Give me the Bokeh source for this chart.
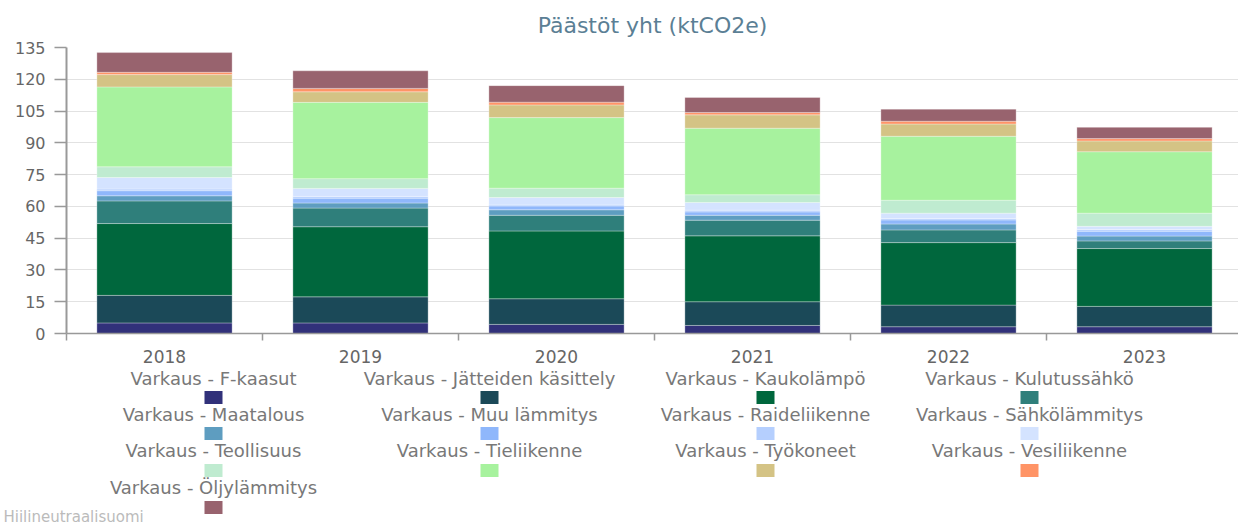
from bokeh.plotting import figure
from bokeh.models import ColumnDataSource, Range1d, FixedTicker, Title
from bokeh.layouts import column
from bokeh.embed import file_html
from bokeh.resources import INLINE
from bokeh.core.properties import value

years = ["2018", "2019", "2020", "2021", "2022", "2023"]
series = [
    "Varkaus - F-kaasut",
    "Varkaus - Jätteiden käsittely",
    "Varkaus - Kaukolämpö",
    "Varkaus - Kulutussähkö",
    "Varkaus - Maatalous",
    "Varkaus - Muu lämmitys",
    "Varkaus - Raideliikenne",
    "Varkaus - Sähkölämmitys",
    "Varkaus - Teollisuus",
    "Varkaus - Tieliikenne",
    "Varkaus - Työkoneet",
    "Varkaus - Vesiliikenne",
    "Varkaus - Öljylämmitys",
]
f_kaasut = [5.0, 5.0, 4.3, 3.8, 3.2, 3.2]
jatteiden = [13.0, 12.3, 12.1, 11.2, 10.2, 9.6]
kaukolampo = [33.9, 33.1, 32.0, 31.1, 29.5, 27.3]
kulutussahko = [10.7, 8.8, 7.4, 7.4, 6.0, 3.6]
maatalous = [2.4, 2.4, 2.6, 2.3, 2.8, 2.3]
muu_lammitys = [2.4, 2.3, 1.8, 1.6, 1.9, 2.3]
raideliikenne = [0.8, 0.8, 0.5, 0.8, 0.7, 0.8]
sahkolammitys = [5.4, 3.8, 3.5, 3.6, 2.5, 1.5]
teollisuus = [5.1, 4.6, 4.4, 3.7, 6.1, 6.2]
tieliikenne = [37.7, 36.0, 33.3, 31.4, 30.2, 29.0]
tyokoneet = [5.8, 5.0, 6.0, 6.3, 5.8, 5.1]
vesiliikenne = [1.1, 1.6, 1.3, 1.1, 1.3, 1.1]
oljylammitys = [9.3, 8.3, 7.8, 7.1, 5.7, 5.3]
colors = ["#31317a", "#1b4958", "#00673d", "#2f7f7b", "#5e9dc0", "#8fb7fb",
          "#b5cffe", "#d4e3ff", "#bfebd0", "#a7f29e", "#d4c385", "#ff9466", "#98636e"]
y_ticks = [0, 15, 30, 45, 60, 75, 90, 105, 120, 135]

values = [f_kaasut, jatteiden, kaukolampo, kulutussahko, maatalous, muu_lammitys,
          raideliikenne, sahkolammitys, teollisuus, tieliikenne, tyokoneet,
          vesiliikenne, oljylammitys]

FONT = "DejaVu Sans"
W = 1238
H1 = 365
H2 = 528 - H1
LEFT = 66

xs = [i + 0.5 for i in range(len(years))]
data = {"x": xs}
keys = []
for i, v in enumerate(values):
    k = "s%d" % i
    keys.append(k)
    data[k] = v
src = ColumnDataSource(data)

p = figure(width=W, height=H1, output_backend="svg", toolbar_location=None,
           x_range=Range1d(0, (W - LEFT) / 196.0), y_range=Range1d(0, 135),
           min_border_left=LEFT, min_border_right=0, min_border_top=0, min_border_bottom=0)
p.frame_align = False
p.title = Title(text="Päästöt yht (ktCO2e)", align="center", text_font_size="22px",
                text_color="#5b7f95", text_font_style="normal", text_font=FONT,
                offset=-8, standoff=20)
p.outline_line_color = None
p.vbar_stack(keys, x="x", width=0.69, source=src, color=colors,
             line_color="white", line_alpha=0.3, line_width=1)

p.xgrid.grid_line_color = None
p.ygrid.grid_line_color = "#e2e2e2"
p.ygrid.grid_line_width = 1

p.yaxis.ticker = FixedTicker(ticks=y_ticks)
p.yaxis.axis_line_color = "#999999"
p.yaxis.axis_line_width = 2
p.yaxis.major_tick_line_color = "#999999"
p.yaxis.major_tick_line_width = 1.5
p.yaxis.major_tick_out = 12
p.yaxis.major_tick_in = 0
p.yaxis.minor_tick_line_color = None
p.yaxis.major_label_standoff = 9
p.yaxis.major_label_text_font_size = "16px"
p.yaxis.major_label_text_color = "#666666"
p.yaxis.major_label_text_font = FONT

p.xaxis.ticker = FixedTicker(ticks=xs, minor_ticks=list(range(len(years) + 1)))
p.xaxis.major_label_overrides = {x: y for x, y in zip(xs, years)}
p.xaxis.axis_line_color = "#999999"
p.xaxis.axis_line_width = 1.5
p.xaxis.major_tick_line_color = None
p.xaxis.major_tick_out = 0
p.xaxis.major_tick_in = 0
p.xaxis.minor_tick_line_color = "#999999"
p.xaxis.minor_tick_line_width = 1.5
p.xaxis.minor_tick_out = 7
p.xaxis.minor_tick_in = 0
p.xaxis.major_label_standoff = 9
p.xaxis.major_label_text_font_size = "17px"
p.xaxis.major_label_text_color = "#666666"
p.xaxis.major_label_text_font = FONT

# legend figure in page pixel coordinates
top = H1
bottom = H1 + H2
lg = figure(width=W, height=H2, output_backend="svg", toolbar_location=None,
            x_range=Range1d(0, W), y_range=Range1d(bottom, top), min_border=0)
lg.frame_align = False
lg.axis.visible = False
lg.grid.visible = False
lg.outline_line_color = None

col_x = [213, 489, 765, 1029]
row_text_y = [378, 414, 450, 487]
row_sq_y = [397, 433, 470, 507]
tx, ty, sx, sy = [], [], [], []
for i, name in enumerate(series):
    r, c = divmod(i, 4)
    tx.append(col_x[c]); ty.append(row_text_y[r])
    sx.append(col_x[c]); sy.append(row_sq_y[r])
lsrc = ColumnDataSource(dict(tx=tx, ty=ty, sx=sx, sy=sy, name=series, color=colors))
lg.text(x="tx", y="ty", text="name", source=lsrc, text_align="center",
        text_baseline="middle", text_font_size="18px", text_color="#787878",
        text_font=value(FONT))
lg.rect(x="sx", y="sy", width=18, height=13, source=lsrc, fill_color="color",
        line_color=None)
lg.text(x=[3], y=[516], text=["Hiilineutraalisuomi"], text_align="left",
        text_baseline="middle", text_font_size="15px", text_color="#bbbbbb",
        text_font=value(FONT))

layout = column(p, lg, spacing=0)
open("out.html", "w").write(file_html(layout, INLINE))
